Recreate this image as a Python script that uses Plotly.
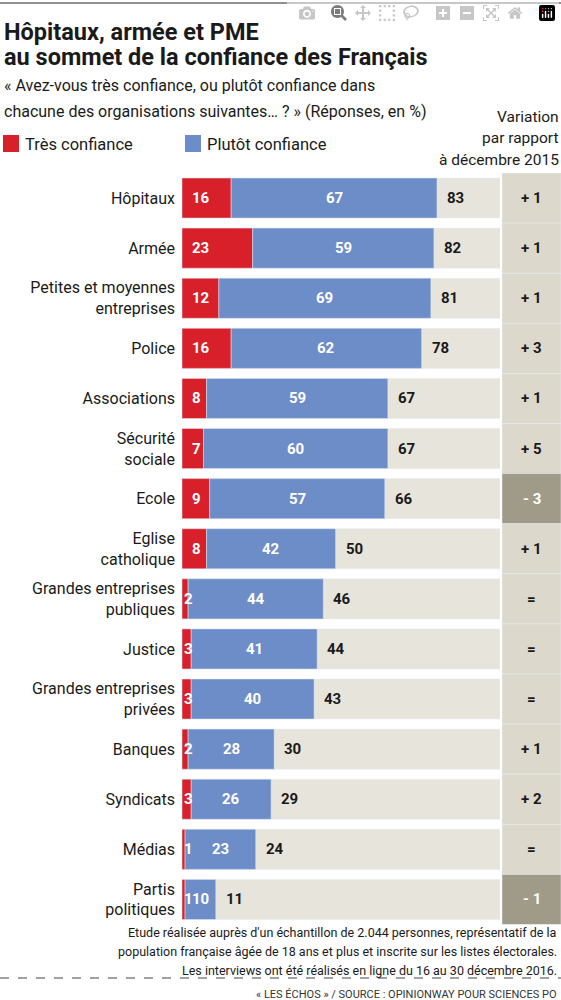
import plotly.graph_objects as go

categories = ["Hôpitaux", "Armée", "Petites et moyennes<br>entreprises", "Police", "Associations",
              "Sécurité<br>sociale", "Ecole", "Eglise<br>catholique", "Grandes entreprises<br>publiques",
              "Justice", "Grandes entreprises<br>privées", "Banques", "Syndicats", "Médias", "Partis<br>politiques"]
tres = [16, 23, 12, 16, 8, 7, 9, 8, 2, 3, 3, 2, 3, 1, 1]
plutot = [67, 59, 69, 62, 59, 60, 57, 42, 44, 41, 40, 28, 26, 23, 10]
total = [83, 82, 81, 78, 67, 67, 66, 50, 46, 44, 43, 30, 29, 24, 11]
variation = ["+ 1", "+ 1", "+ 1", "+ 3", "+ 1", "+ 5", "- 3", "+ 1", "=", "=", "=", "+ 1", "+ 2", "=", "- 1"]

RED = "#d7202a"; BLUE = "#6d8dc8"; BG = "#e7e4dc"; VBG = "#dcd8cb"; VDARK = "#a09b88"
FONT = "Roboto"
XMAX = 103.5

fig = go.Figure()
fig.add_trace(go.Bar(y=categories, x=[XMAX]*len(categories), orientation="h", marker_color=BG,
                     width=0.8, hoverinfo="skip", showlegend=False))
fig.add_trace(go.Bar(y=categories, x=tres, orientation="h", marker_color=RED, width=0.8, showlegend=False))
fig.add_trace(go.Bar(y=categories, x=plutot, base=tres, orientation="h", marker_color=BLUE, width=0.8, showlegend=False))
neg = [v.startswith("-") for v in variation]
fig.add_trace(go.Bar(y=categories, x=[1]*len(categories), orientation="h", xaxis="x2", yaxis="y",
                     marker_color=[VDARK if n else VBG for n in neg], width=1.0, showlegend=False))

ann = []
for c, t, p, tot, v, n in zip(categories, tres, plutot, total, variation, neg):
    ann.append(dict(x=0, y=c, xref="x", yref="y", text=f"<b>{t}</b>", showarrow=False, xanchor="left",
                    xshift=(0 if t < 4 else 8), font=dict(color="white", size=15, family=FONT)))
    ann.append(dict(x=t + p / 2, y=c, xref="x", yref="y", text=f"<b>{p}</b>", showarrow=False,
                    font=dict(color="white", size=15, family=FONT)))
    ann.append(dict(x=tot, y=c, xref="x", yref="y", text=f"<b>{tot}</b>", showarrow=False, xanchor="left",
                    xshift=8, font=dict(color="#1a1a1a", size=15, family=FONT)))
    ann.append(dict(x=0.5, y=c, xref="x2", yref="y", text=f"<b>{v}</b>", showarrow=False,
                    font=dict(color="white" if n else "#1a1a1a", size=15, family=FONT)))

def T(x, y, text, size, anchor="left", color="#1a1a1a", bold=False):
    ann.append(dict(x=x / 561, y=1 - y / 1000, xref="paper", yref="paper", text=f"<b>{text}</b>" if bold else text,
                    showarrow=False, xanchor=anchor, yanchor="middle", font=dict(size=size, family=FONT, color=color)))

T(2, 32, "Hôpitaux, armée et PME", 23.5, bold=True)
T(2, 57, "au sommet de la confiance des Français", 23.5, bold=True)
T(2, 86, "« Avez-vous très confiance, ou plutôt confiance dans", 16)
T(2, 112, "chacune des organisations suivantes… ? » (Réponses, en %)", 16)
T(561, 117, "Variation", 15.5, anchor="right")
T(561, 138, "par rapport", 15.5, anchor="right")
T(561, 160, "à décembre 2015", 15.5, anchor="right")
T(23, 144, "Très confiance", 16.5)
T(205, 144, "Plutôt confiance", 16.5)
T(559, 932, "Etude réalisée auprès d'un échantillon de 2.044 personnes, représentatif de la", 12.5, anchor="right")
T(559, 951, "population française âgée de 18 ans et plus et inscrite sur les listes électorales.", 12.5, anchor="right")
T(559, 970, "Les interviews ont été réalisés en ligne du 16 au 30 décembre 2016.", 12.5, anchor="right")
T(559, 994, "« LES ÉCHOS » / SOURCE : OPINIONWAY POUR SCIENCES PO", 11, anchor="right", color="#333")

shapes = [
    dict(type="line", xref="paper", yref="paper", x0=0, x1=1, y0=1 - 3 / 1000, y1=1 - 3 / 1000, line=dict(color="#222", width=1)),
    dict(type="line", xref="paper", yref="paper", x0=0, x1=1, y0=1 - 978 / 1000, y1=1 - 978 / 1000, line=dict(color="#444", width=1, dash="dash")),
    dict(type="rect", xref="paper", yref="paper", x0=3 / 561, x1=19 / 561, y0=1 - 152 / 1000, y1=1 - 135 / 1000, fillcolor=RED, line_width=0),
    dict(type="rect", xref="paper", yref="paper", x0=185 / 561, x1=201 / 561, y0=1 - 152 / 1000, y1=1 - 135 / 1000, fillcolor=BLUE, line_width=0),
]

fig.update_layout(
    width=561, height=1000, margin=dict(l=0, r=0, t=0, b=0), barmode="overlay", bargap=0.2,
    plot_bgcolor="white", paper_bgcolor="white", annotations=ann, shapes=shapes,
    xaxis=dict(domain=[182 / 561, 500 / 561], range=[0, XMAX], visible=False, fixedrange=True),
    xaxis2=dict(domain=[502 / 561, 1], range=[0, 1], visible=False, anchor="y"),
    yaxis=dict(domain=[1 - 924.5 / 1000, 1 - 173 / 1000], autorange="reversed", showline=False, showgrid=False,
               ticks="", ticklabelstandoff=6, tickfont=dict(size=16, family=FONT, color="#1a1a1a")),
    font=dict(family=FONT),
)
fig.write_html("out.html")
with open("out.html", encoding="utf-8") as f:
    html = f.read()
html = html.replace("<head>", "<head><style>html,body{margin:0;padding:0;overflow:hidden}</style>", 1)
with open("out.html", "w", encoding="utf-8") as f:
    f.write(html)
